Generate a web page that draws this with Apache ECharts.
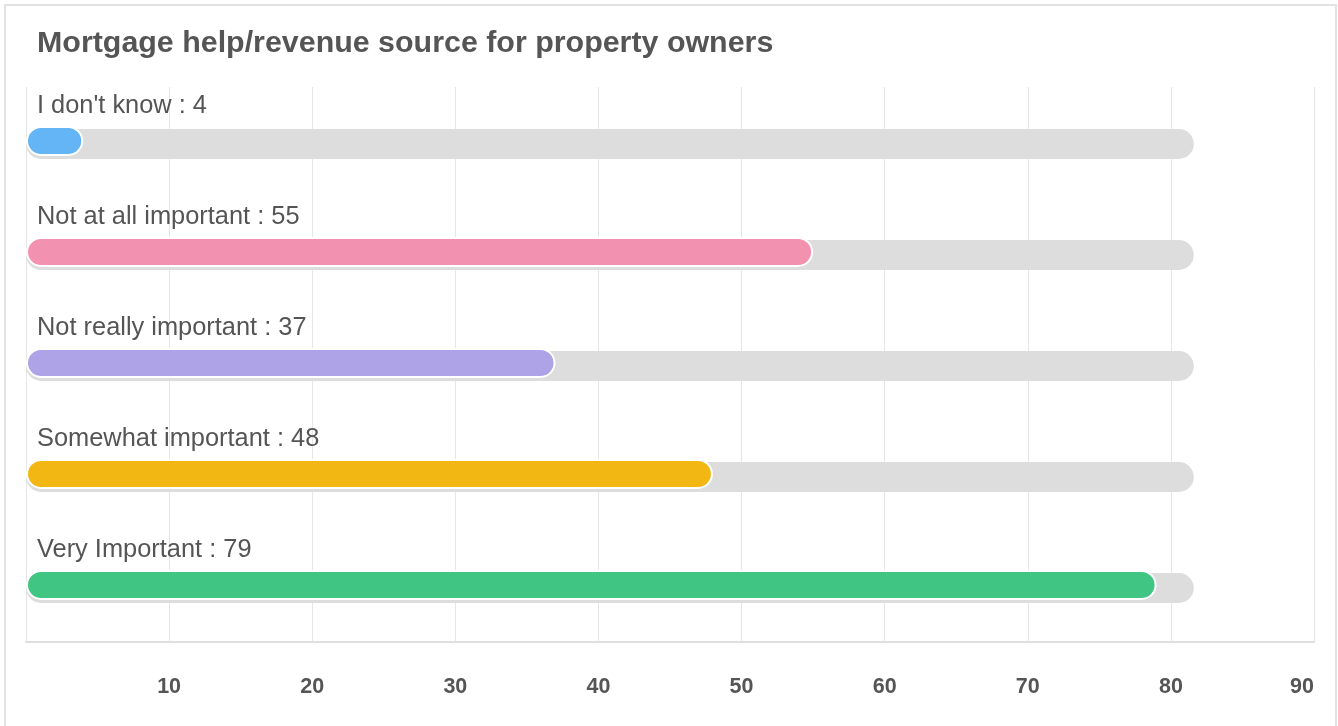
<!DOCTYPE html>
<html>
<head>
<meta charset="utf-8">
<script src="https://cdn.jsdelivr.net/npm/echarts@6/dist/echarts.min.js"></script>
<style>
  html, body { margin: 0; padding: 0; background: #fff; overflow: hidden; }
  #frame { position: absolute; left: 4px; top: 4px; width: 1333px; height: 740px; border: 2px solid #e2e2e2; box-sizing: border-box; }
  #chart { position: absolute; left: 0; top: 0; width: 1338px; height: 726px; }
</style>
</head>
<body>
<div id="frame"></div>
<div id="chart"></div>
<script>
const titleText = 'Mortgage help/revenue source for property owners';
const categories = ['I don\'t know', 'Not at all important', 'Not really important', 'Somewhat important', 'Very Important'];
const values = [4, 55, 37, 48, 79];
const trackValues = [81.6, 81.6, 81.6, 81.6, 81.6];
const barColors = ['#64b5f6', '#f391b1', '#ada3e6', '#f2b712', '#40c583'];
const xTicks = { min: 0, max: 90, interval: 10 };

const chart = echarts.init(document.getElementById('chart'), null, { renderer: 'canvas' });
const font = '"Liberation Sans", Arial, Helvetica, sans-serif';

chart.setOption({
  animation: false,
  backgroundColor: 'transparent',
  title: {
    text: titleText,
    left: 32,
    top: 24,
    textStyle: { fontFamily: font, fontSize: 30.4, fontWeight: 'bold', color: '#555555' }
  },
  grid: { left: 26, right: 24, top: 87, bottom: 84, containLabel: false },
  xAxis: {
    type: 'value',
    min: xTicks.min,
    max: xTicks.max,
    interval: xTicks.interval,
    axisLine: { show: true, lineStyle: { color: '#dedede', width: 2 } },
    axisTick: { show: false },
    splitLine: { show: true, lineStyle: { color: '#e6e6e6', width: 1 } },
    axisLabel: {
      showMinLabel: false,
      alignMaxLabel: 'right',
      fontFamily: font, fontSize: 21.5, fontWeight: 'bold', color: '#555555', margin: 34
    }
  },
  yAxis: {
    type: 'category',
    data: categories,
    inverse: true,
    axisLine: { show: false },
    axisTick: { show: false },
    axisLabel: { show: false },
    splitLine: { show: false }
  },
  series: [
    {
      type: 'bar',
      data: values.map((v, i) => ({ value: v, itemStyle: { color: barColors[i] } })),
      barWidth: 30,
      barGap: '-90%',
      z: 3,
      itemStyle: { borderRadius: 15, borderColor: '#ffffff', borderWidth: 2 }
    },
    {
      type: 'bar',
      data: trackValues,
      barWidth: 30,
      z: 2,
      silent: true,
      itemStyle: { color: '#dddddd', borderRadius: 15 },
      label: {
        show: true,
        position: [11, -23],
        verticalAlign: 'middle',
        align: 'left',
        fontFamily: font,
        fontSize: 25.4,
        color: '#555555',
        formatter: p => categories[p.dataIndex] + ' : ' + values[p.dataIndex]
      }
    }
  ]
});
</script>
</body>
</html>
